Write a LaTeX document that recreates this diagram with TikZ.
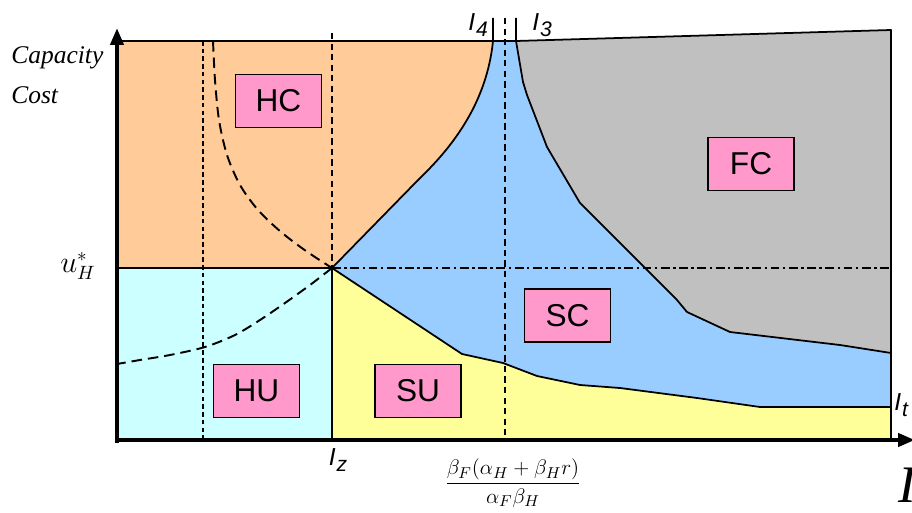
\documentclass[tikz,border=0pt]{standalone}
\usepackage{amsmath}
\usepackage{fontspec}
\setmainfont{Liberation Sans}
\newfontfamily\serif{Liberation Serif}
\usepackage{tikz}
\usetikzlibrary{arrows.meta}
\definecolor{org}{HTML}{FFCC99}
\definecolor{cyn}{HTML}{CCFFFF}
\definecolor{yel}{HTML}{FFFF99}
\definecolor{blu}{HTML}{99CCFF}
\definecolor{gry}{HTML}{C0C0C0}
\definecolor{pnk}{HTML}{FF99CC}
\tikzset{
  ax/.style={line width=2.3pt,-{Triangle[length=3.4mm,width=2.6mm]}},
  bd/.style={line width=1pt,line join=round},
  dsh/.style={line width=1.1pt,dash pattern=on 3.6pt off 2.4pt},
  dts/.style={line width=0.9pt,dash pattern=on 2.6pt off 1.8pt},
  dcv/.style={line width=1.1pt,dash pattern=on 6pt off 3.4pt},
  dd/.style={line width=0.9pt,dash pattern=on 5pt off 2pt on 1.4pt off 2pt},
  lbl/.style={draw,line width=1.1pt,fill=pnk,inner sep=0pt,minimum width=1.72cm,minimum height=1.06cm,font=\fontsize{18}{18}\selectfont},
  txt/.style={inner sep=0pt,font=\fontsize{14}{14}\selectfont}
}
\newcommand{\ilab}[1]{{\itshape I}\kern0.5pt\raisebox{-0.45ex}{\fontsize{12}{12}\selectfont\itshape #1}}

\begin{document}
\begin{tikzpicture}[x=0.02cm,y=-0.02cm]
\useasboundingbox (0,0) rectangle (912,513);
\fill[blu] (332,41) rectangle (891,440);
\fill[gry] (516,41) -- (891,30) -- (891,353) -- (840,345) -- (730,332) -- (687,312) -- (677,300) -- (600,223) -- (580,203) -- (547,147) -- (527,95) -- (523,82) .. controls (519,62) .. (516,41) -- cycle;
\fill[org] (117,41) -- (493,41) .. controls (488,90) and (465,135) .. (420,178) -- (332,268) -- (117,268) -- cycle;
\fill[yel] (332,268) -- (462,354) -- (503,363) -- (537,376) -- (580,385) -- (620,388) -- (697,398) -- (760,407) -- (891,407) -- (891,440) -- (332,440) -- cycle;
\fill[cyn] (117,268) rectangle (332,440);
\draw[bd] (117,41) -- (516,41) -- (891,30) -- (891,440);
\draw[bd] (493,18) -- (493,41) .. controls (488,90) and (465,135) .. (420,178) -- (332,268);
\draw[bd] (516,18) -- (516,41) .. controls (519,62) .. (523,82) -- (527,95) -- (547,147) -- (580,203) -- (600,223) -- (677,300) -- (687,312) -- (730,332) -- (840,345) -- (891,353);
\draw[bd] (332,268) -- (462,354) -- (503,363) -- (537,376) -- (580,385) -- (620,388) -- (697,398) -- (760,407) -- (891,407);
\draw[bd] (117,268) -- (332,268) -- (332,440);
\draw[dd] (332,268) -- (891,268);
\draw[dsh] (332,33) -- (332,268);
\draw[dsh] (505,18) -- (505,440);
\draw[dts] (203,41) -- (203,440);
\draw[dcv] plot[smooth] coordinates {(213,41) (215,80) (219,120) (227,155) (240,185) (258,210) (281,232) (306,251) (332,268)};
\draw[dcv] plot[smooth] coordinates {(332,268) (310,285) (285,303) (260,320) (235,335) (205,347) (170,355) (140,360) (117,364)};
\draw[ax] (117,443) -- (117,28);
\draw[ax] (115,440) -- (915,440);
\node[lbl] (hc) at (278.5,101) {HC};
\node[lbl] (hu) at (256.5,391) {HU};
\node[lbl] (su) at (418,391) {SU};
\node[lbl] (sc) at (567.5,315.5) {SC};
\node[lbl] (fc) at (751,164) {FC};
\node[txt,anchor=west,font=\serif\itshape\fontsize{14.5}{14.5}\selectfont] (cap) at (11,58) {Capacity};
\node[txt,anchor=west,font=\serif\itshape\fontsize{14.5}{14.5}\selectfont] (cost) at (11,95) {Cost};
\node[txt,font=\fontsize{16}{16}\selectfont] (uh) at (78,266) {$u^{*}_{H}$};
\node[txt] (iz) at (338,460) {\ilab{z}};
\node[txt] (i4) at (478,25) {\ilab{4}};
\node[txt] (i3) at (542,25) {\ilab{3}};
\node[txt,anchor=west] (it) at (894,405) {\ilab{t}};
\node[txt,anchor=west,font=\serif\itshape\fontsize{30}{30}\selectfont] (ibig) at (898,485) {I};
\node[txt,font=\fontsize{13}{13}\selectfont] (frac) at (513,483) {$\dfrac{\beta_{F}(\alpha_{H}+\beta_{H}r)}{\alpha_{F}\beta_{H}}$};
\end{tikzpicture}
\end{document}
